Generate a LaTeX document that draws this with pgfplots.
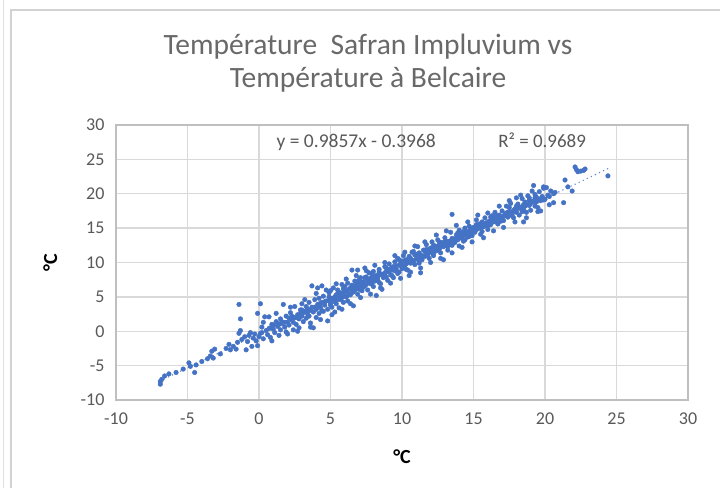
\documentclass[border=0pt]{standalone}
\usepackage{pgfplots}
\pgfplotsset{compat=1.18}
\usepackage{fontspec}
\setmainfont{Carlito}
\definecolor{mk}{RGB}{68,114,196}
\definecolor{gridc}{RGB}{217,217,217}
\definecolor{axc}{RGB}{191,191,191}
\definecolor{tickc}{RGB}{89,89,89}
\definecolor{titc}{RGB}{105,105,105}
\pgfplotstableread{
x y
-6.9 -7.7
-6.9 -7.3
-6.8 -7.0
-6.6 -6.5
-6.3 -6.2
-5.8 -6.0
-5.3 -5.5
-4.9 -4.6
-4.8 -5.1
-4.5 -6.0
-4.4 -4.9
-4.0 -4.4
-3.6 -4.0
-3.4 -3.6
-3.3 -2.9
-3.2 -3.9
-3.1 -2.6
-2.7 -3.3
-2.3 -2.5
-2.1 -1.9
-2.0 -2.7
-1.8 -2.2
-1.6 -2.6
-1.5 -1.6
-1.4 -0.3
-1.3 0.1
-1.3 1.8
-1.4 3.9
-1.2 -1.2
-1.0 -0.8
-0.9 -2.7
-0.8 -1.5
-0.7 -0.6
-0.6 -0.2
-0.5 -2.2
-0.4 -1.0
-0.3 -0.4
-0.2 -1.4
-0.1 2.6
-0.1 -2.1
0.0 -0.8
0.1 4.0
0.1 -0.3
0.2 0.6
0.3 -1.1
0.4 2.1
0.5 0.1
0.6 -0.5
0.7 2.1
0.7 0.4
0.8 -0.9
0.9 1.0
1.0 0.3
1.1 -0.2
1.2 1.4
1.3 0.7
1.4 -0.6
1.5 1.8
1.5 0.2
1.6 1.1
1.7 3.9
1.8 0.6
1.9 2.2
2.0 1.3
2.0 -0.4
2.1 0.9
2.2 2.7
2.3 1.6
2.4 0.2
2.5 2.0
2.5 3.6
2.6 1.0
2.7 2.4
2.8 1.8
2.8 0.5
2.9 3.1
3.0 2.2
3.0 4.0
3.1 1.4
3.2 2.9
3.3 3.6
3.3 1.9
3.4 2.5
3.5 4.2
3.5 3.0
3.6 1.2
3.7 3.5
3.7 6.6
3.8 0.5
3.8 2.8
3.9 4.6
4.0 3.2
4.0 2.0
4.1 6.3
4.1 3.9
4.2 4.8
4.2 2.6
4.3 3.5
4.4 4.2
4.4 6.6
4.5 2.9
4.5 5.1
4.6 3.8
4.7 4.4
4.8 1.5
4.8 3.2
4.9 5.0
5.0 4.1
5.0 5.9
5.1 3.5
5.2 4.7
5.2 6.3
5.3 2.8
5.4 5.3
5.4 4.0
5.5 6.0
5.5 4.6
5.6 3.4
5.7 5.6
5.8 4.9
5.8 6.8
5.9 4.2
6.0 5.8
6.0 6.5
6.1 5.0
6.2 7.0
6.2 4.4
6.3 6.1
6.4 5.3
6.5 8.9
6.5 6.7
6.6 3.7
6.6 5.7
6.7 7.3
6.8 6.2
6.9 8.9
6.9 5.4
7.0 7.0
7.0 6.4
7.1 7.8
7.2 5.9
7.3 7.2
7.4 9.2
7.4 6.6
7.5 7.9
7.6 6.0
7.6 7.4
7.7 8.5
7.8 6.9
7.9 7.6
8.0 8.7
8.0 6.5
8.1 7.3
8.2 5.2
8.2 8.1
8.3 7.6
8.4 9.0
8.5 6.9
8.5 8.3
8.6 6.1
8.7 7.8
8.8 9.4
8.9 8.6
9.0 7.4
9.0 8.9
9.1 9.8
9.2 8.2
9.3 9.3
9.4 7.8
9.5 10.1
9.5 8.8
9.6 9.5
9.7 10.6
9.8 8.6
9.9 9.8
10.0 10.2
10.0 9.1
10.1 11.0
10.2 9.6
10.3 10.4
10.4 8.9
10.5 8.1
10.5 10.9
10.6 9.9
10.7 11.5
10.8 10.3
10.9 9.7
11.0 11.2
11.0 10.5
11.1 12.3
11.2 9.9
11.3 8.5
11.3 11.0
11.4 10.4
11.5 11.8
11.6 10.9
11.7 12.6
11.8 11.3
11.9 10.6
12.0 12.1
12.0 11.5
12.1 13.0
12.2 11.0
12.3 12.4
12.4 11.7
12.5 13.3
12.6 12.0
12.7 11.4
12.8 12.9
12.9 10.4
12.9 12.3
13.0 13.6
13.1 12.7
13.2 11.8
13.3 13.1
13.4 14.4
13.5 12.5
13.5 17.0
13.6 13.4
13.7 12.9
13.8 14.0
13.9 13.3
14.0 12.4
14.0 14.7
14.1 13.6
14.2 14.2
14.3 13.1
14.4 15.0
14.5 14.3
14.6 13.7
14.7 15.3
14.8 14.6
14.9 13.9
15.0 15.1
15.1 14.4
15.2 16.2
15.3 14.9
15.4 15.6
15.5 14.1
15.6 15.9
15.7 15.2
15.8 16.5
15.9 15.4
16.0 14.8
16.1 16.0
16.2 15.5
16.3 16.8
16.4 15.9
16.5 17.3
16.6 16.3
16.7 15.6
16.8 16.9
16.9 16.4
17.0 17.5
17.1 16.1
17.2 17.0
17.3 18.2
17.4 16.6
17.5 17.4
17.6 18.6
17.7 17.1
17.8 16.5
17.9 17.8
18.0 19.4
18.0 17.3
18.1 18.5
18.2 16.9
18.3 18.0
18.4 19.3
18.5 15.9
18.5 17.7
18.6 18.8
18.7 17.3
18.8 19.7
18.9 18.3
19.0 17.6
19.1 18.9
19.2 21.2
19.3 18.2
19.4 19.5
19.5 18.0
19.6 20.3
19.7 17.5
19.8 19.6
19.9 20.8
20.0 19.2
20.1 20.9
20.2 19.8
20.4 20.4
20.6 20.0
20.6 18.7
20.7 20.2
21.3 18.7
21.4 22.0
21.6 21.0
21.9 20.4
22.1 23.9
22.2 23.5
22.3 23.2
22.5 23.3
22.7 23.4
22.8 23.6
24.4 22.6
2.1 1.9
2.3 2.2
2.6 2.0
2.9 2.6
3.1 2.7
3.4 3.2
3.6 3.1
3.9 3.5
4.1 3.4
4.3 4.1
4.6 4.3
4.9 4.4
5.1 4.8
5.3 5.0
5.6 5.2
5.7 4.6
5.9 5.5
6.1 5.9
6.3 5.4
6.4 6.3
6.7 6.0
6.8 6.8
7.1 6.7
7.2 7.1
7.5 6.8
7.7 7.3
7.9 7.0
8.1 8.0
8.3 7.9
8.4 7.1
8.6 8.2
8.8 8.5
8.9 7.9
9.1 8.7
9.3 8.9
9.4 9.4
9.6 9.0
9.8 9.6
10.1 9.5
10.2 10.3
10.4 10.1
10.6 10.6
10.8 10.0
10.9 11.1
11.1 10.7
11.2 11.4
11.4 11.0
11.6 11.6
11.8 11.0
11.9 11.9
12.1 11.6
12.3 12.0
12.5 12.4
12.6 11.9
12.8 12.4
13.0 12.5
13.1 13.1
13.3 12.8
13.5 13.5
13.7 13.4
13.9 13.6
14.1 14.0
14.2 13.5
14.4 14.0
14.6 14.5
14.8 14.2
15.0 14.6
15.1 15.0
15.3 15.3
15.5 15.0
15.7 15.5
15.9 15.8
16.1 15.6
16.2 16.1
16.4 16.3
16.6 15.9
16.8 16.6
17.0 16.7
17.2 16.8
17.4 17.3
17.6 17.0
17.8 17.6
18.0 17.8
18.2 17.9
18.4 18.1
18.6 18.2
18.8 18.4
19.0 18.6
19.2 18.9
19.4 18.8
19.6 19.2
19.8 19.5
1.0 0.9
1.3 1.1
1.6 1.4
1.8 1.3
5.0 3.8
5.5 5.4
6.0 5.1
6.6 6.3
7.0 6.1
7.3 6.4
7.8 7.7
8.2 7.4
8.7 8.3
9.2 9.1
9.7 8.4
10.3 9.8
10.7 10.2
11.3 10.8
11.7 11.2
12.2 12.5
12.7 12.7
13.2 12.3
13.6 13.0
14.3 14.5
14.7 13.8
15.2 14.8
15.6 15.4
16.0 15.3
16.5 16.4
16.9 16.0
17.3 17.2
17.7 16.8
18.1 18.3
18.5 18.4
18.9 19.0
19.3 19.4
19.9 19.1
20.3 19.6
0.3 1.3
0.9 -1.4
1.2 2.6
1.9 -0.1
2.2 3.5
2.7 0.0
3.2 4.6
3.6 0.6
4.0 5.5
4.3 1.7
4.7 6.0
5.1 2.4
5.4 6.9
5.8 3.2
6.1 7.6
6.4 4.0
6.8 8.1
7.1 4.9
7.5 8.8
7.8 5.4
8.1 9.6
8.5 6.3
8.8 10.0
9.2 7.0
9.5 11.0
9.9 7.7
10.2 11.5
10.6 8.6
10.9 12.4
11.3 9.2
11.6 13.0
12.0 10.0
12.4 14.0
12.7 10.6
13.1 14.6
13.5 11.4
13.8 15.4
14.2 12.2
14.6 15.9
14.9 13.0
15.3 16.9
15.7 13.6
16.0 17.2
16.4 14.6
16.8 18.2
17.1 15.1
17.5 19.0
17.9 15.9
18.3 19.8
18.7 16.5
19.1 20.4
19.5 17.4
19.9 21.0
20.3 18.4
0.2 -0.2
0.8 0.5
1.4 1.0
2.4 1.3
3.0 3.1
3.5 2.2
4.4 3.0
4.9 5.6
5.3 4.3
5.9 6.2
6.2 5.2
6.5 6.0
7.0 7.5
7.4 7.8
7.9 8.3
8.4 8.6
8.9 9.2
9.3 8.1
9.8 10.4
10.3 9.0
10.8 11.6
11.2 10.2
11.7 11.9
12.2 11.3
12.6 13.0
13.0 13.0
13.4 12.6
13.9 14.3
14.4 13.3
14.8 15.0
15.2 15.5
15.6 14.5
16.2 16.6
16.6 16.8
17.0 16.3
17.5 18.0
18.0 18.2
18.4 17.4
18.9 19.4
19.3 19.9
19.7 19.0
}\datatable
\begin{document}
\begin{tikzpicture}[x=1pt,y=1pt]
\useasboundingbox (0,0) rectangle (720,488);
\fill[white] (0,0) rectangle (720,488);
\draw[gray!25, line width=1pt] (3,0) -- (3,488);
\draw[gray!35, line width=1.2pt] (11,0) -- (11,478) -- (720,478);
\node[font=\fontsize{29.5}{33}\selectfont, text=titc, align=center] at (368,424.5) {Température\ \ Safran Impluvium vs\\Température à Belcaire};
\begin{axis}[
  at={(116pt,88pt)}, anchor=south west,
  scale only axis, width=572pt, height=275pt,
  xmin=-10, xmax=30, ymin=-10, ymax=30,
  xtick={-10,-5,...,30}, ytick={-10,-5,...,30},
  grid=major, grid style={gridc, line width=1.3pt},
  axis line style={axc, line width=1.3pt},
  tick style={draw=none},
  ticklabel style={font=\fontsize{18}{20}\selectfont, text=tickc},
  /pgf/number format/assume math mode=true,
  xticklabel style={yshift=-9pt},
  yticklabel style={xshift=-8pt},
  xlabel={°C}, ylabel={°C},
  every axis x label/.style={at={(axis description cs:0.5,-0.207)}, anchor=center, font=\fontsize{20}{24}\selectfont\bfseries, text=black},
  every axis y label/.style={at={(axis description cs:-0.115,0.5)}, anchor=center, rotate=90, font=\fontsize{20}{24}\selectfont\bfseries, text=black},
  clip=false,
]
\addplot[only marks, mark=*, mark size=2.3pt, mark options={fill=mk, draw=mk}] table[x=x,y=y] {\datatable};
\addplot[mk!85, line width=1.6pt, line cap=round, dash pattern=on 0pt off 4.5pt] coordinates {(-6.9,-7.198) (24.4,23.654)};
\node[font=\fontsize{19.5}{22}\selectfont, text=tickc] at (axis cs:6.8,27.5) {y = 0.9857x - 0.3968};
\node[font=\fontsize{19}{22}\selectfont, text=tickc] at (axis cs:19.8,27.8) {R² = 0.9689};
\end{axis}
\end{tikzpicture}
\end{document}
